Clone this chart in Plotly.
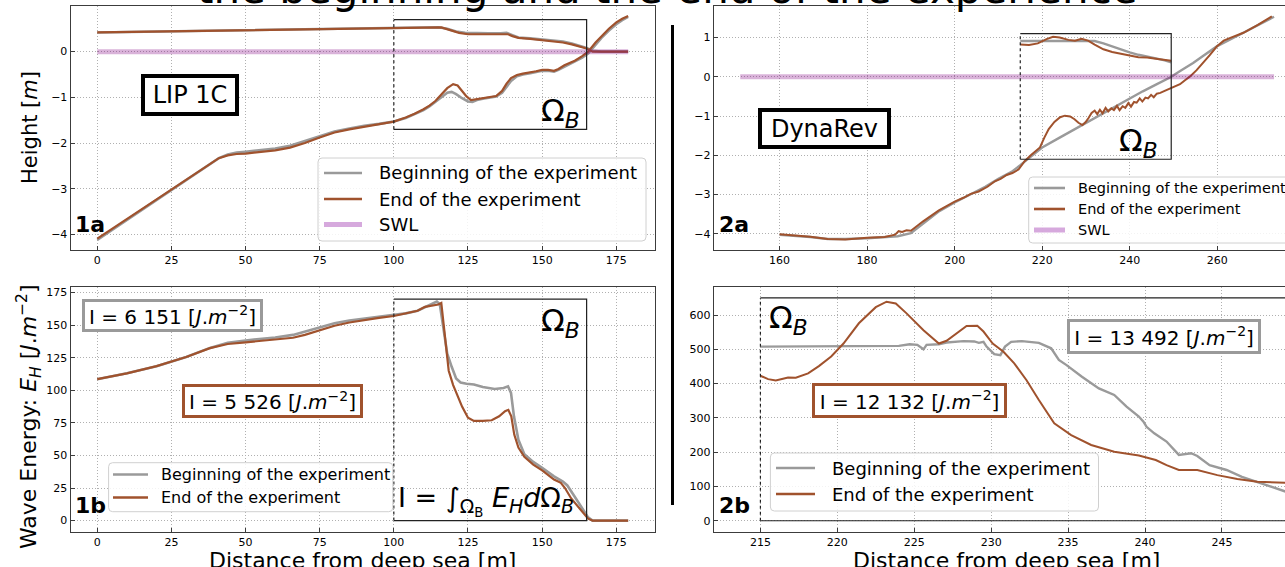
import plotly.graph_objects as go

W, H = 1285, 567
FONT = "DejaVu Sans"
GREY = "#9a9a9a"
BROWN = "#a0522d"
SWL_C = "rgba(128,0,128,0.3)"

# ---------------- data: panel 1a (LIP 1C bathymetry / water level) ----------------
bed1_x_beg = [0, 10, 20, 25, 30, 35, 38, 41, 44, 47, 50, 55, 60, 65, 70, 75, 80, 85, 90, 95,
              100, 104, 107, 110, 112, 114, 116, 118, 119.5, 121, 123, 125, 126.5, 128, 130, 132,
              134.5, 136.5, 138, 139.5, 141.5, 143.5, 146, 148, 150, 152, 154, 155.5, 157.5, 159,
              161, 163.5, 165.5, 168, 170, 172.5, 175, 177, 179]
bed1_y_beg = [-4.12, -3.68, -3.24, -3.02, -2.81, -2.59, -2.46, -2.33, -2.25, -2.21,
              -2.19, -2.16, -2.12, -2.06, -1.96, -1.85, -1.75, -1.68, -1.62, -1.58,
              -1.53, -1.45, -1.37, -1.28, -1.20, -1.10, -0.98, -0.90, -0.88, -0.93,
              -1.02, -1.09, -1.10, -1.06, -1.03, -1.01, -0.98, -0.90, -0.76, -0.64,
              -0.54, -0.50, -0.47, -0.44, -0.42, -0.42, -0.44, -0.40, -0.33, -0.28,
              -0.22, -0.13, -0.04, 0.15, 0.30, 0.46, 0.60, 0.69, 0.76]
bed1_x_end = [0, 10, 20, 25, 30, 35, 38, 41, 44, 47, 50, 55, 60, 65, 70, 75, 80, 85, 90, 95,
              100, 104, 107, 110, 112, 114, 116, 118, 120, 121.5, 123, 124.5, 126, 128, 130, 132,
              134.5, 136.5, 138, 139.5, 141.5, 143.5, 146, 148, 150, 152, 154, 155.5, 157.5, 159,
              161, 163.5, 165.5, 168, 170, 172.5, 175, 177, 179]
bed1_y_end = [-4.09, -3.66, -3.23, -3.0, -2.8, -2.58, -2.45, -2.33, -2.27, -2.24,
              -2.23, -2.20, -2.16, -2.10, -2.00, -1.88, -1.77, -1.70, -1.64, -1.59,
              -1.53, -1.44, -1.36, -1.26, -1.18, -1.08, -0.95, -0.80, -0.71, -0.74,
              -0.86, -0.98, -1.06, -1.04, -1.02, -1.01, -0.97, -0.86, -0.70, -0.58,
              -0.51, -0.48, -0.46, -0.43, -0.40, -0.40, -0.42, -0.38, -0.30, -0.26,
              -0.20, -0.10, 0.0, 0.20, 0.34, 0.50, 0.64, 0.72, 0.78]
top1_x_beg = [0, 25, 50, 75, 100, 110, 115, 118, 121, 124, 128, 132, 136, 138, 140, 142, 146,
              150, 154, 157, 160, 163, 165, 167, 170, 175, 179]
top1_y_beg = [0.42, 0.445, 0.47, 0.49, 0.51, 0.52, 0.535, 0.50, 0.44, 0.41, 0.40, 0.40, 0.40,
              0.41, 0.36, 0.31, 0.29, 0.26, 0.24, 0.22, 0.18, 0.13, 0.08, 0.02, 0.0, 0.0, 0.0]
top1_x_end = [0, 25, 50, 75, 100, 110, 116, 119, 122, 125, 130, 135, 138.5, 140, 142, 146, 150,
              154, 157, 160, 163, 165, 167, 170, 175, 179]
top1_y_end = [0.42, 0.445, 0.47, 0.49, 0.51, 0.52, 0.53, 0.47, 0.41, 0.38, 0.375, 0.375, 0.38,
              0.34, 0.30, 0.28, 0.25, 0.23, 0.20, 0.16, 0.11, 0.07, 0.0, 0.0, 0.0, 0.0]
swl1_x = [0, 179]
swl1_y = [0, 0]

# ---------------- data: panel 1b (LIP 1C wave energy) ----------------
en1_x_beg = [0, 10, 20, 25, 30, 38, 44, 50, 55, 60, 66, 70, 75, 80, 85, 90, 95, 100, 104, 108,
             111, 113, 114.5, 115.5, 117, 118, 119.5, 121, 122.5, 124.5, 127, 130, 134, 137,
             138.5, 139.5, 140.5, 142, 144, 147, 150, 154, 157, 158.5, 160.5, 163, 165.5, 167,
             172, 179]
en1_y_beg = [108.5, 113, 118.5, 122, 125.5, 132.5, 136.5, 138.2, 139.3, 140.5,
             142.5, 145, 148.5, 151.5, 153.5, 155, 156.5, 157.5, 159, 161,
             164, 166.5, 168, 166, 141, 128, 118, 109, 106, 105,
             104.5, 102.5, 101, 101.8, 103, 98, 80, 62, 51, 45,
             40.5, 34, 30, 27, 20, 11, 2.5, 0, 0, 0]
en1_x_end = [0, 10, 20, 25, 30, 38, 44, 50, 55, 60, 66, 70, 75, 80, 85, 90, 95, 100, 104, 108,
             110.5, 113, 115, 116, 117, 118.5, 120, 121.5, 123, 125, 127, 130, 133, 135.5, 137.5,
             138.6, 139.6, 140.6, 142, 144, 147, 150, 154, 156.3, 157.7, 159.8, 162.5, 165.5,
             167, 172, 179]
en1_y_end = [108.5, 113, 118.5, 122, 125.5, 132.3, 135.5, 136.8, 137.8, 138.8,
             140.3, 142.5, 146, 149.5, 152, 154, 155.5, 157, 159, 161,
             164, 165, 165.8, 167, 145, 115, 104, 96, 87.5, 79,
             76.5, 76.5, 77, 80, 84, 85, 80, 66, 56, 49,
             43, 38.5, 31.5, 29, 25, 17, 10, 1.5, 0, 0, 0]

# ---------------- data: panel 2a (DynaRev bathymetry / water level) ----------------
bed2_x_beg = [160, 163, 167, 171, 175, 180, 184, 187, 190, 193, 196.5, 200, 203.5, 207, 210,
              213, 215, 217.5, 220, 224, 228, 232, 235.5, 239, 243, 246, 249.2, 252, 254.5,
              257, 260, 263, 266, 269, 273]
bed2_y_beg = [-4.02, -4.04, -4.08, -4.13, -4.13, -4.11, -4.09, -4.06, -3.98, -3.72,
              -3.42, -3.2, -3.01, -2.8, -2.6, -2.42, -2.25, -2.03, -1.8, -1.55,
              -1.3, -1.05, -0.84, -0.61, -0.37, -0.2, -0.02, 0.18, 0.35, 0.55,
              0.78, 0.95, 1.12, 1.3, 1.53]
bed2_x_end = [160, 163, 167, 171, 175, 180, 184, 186.4, 187.2, 188, 189, 190, 192.8, 196.4,
              200, 202, 203.7, 205.5, 207.5, 209.2, 210.5, 211.9, 213.2, 214.6, 216, 217.4,
              218.5, 219.5, 220.5, 221.5, 222.8, 224.1, 225.2, 226.4, 227.4, 228.3, 229.2,
              229.9, 230.6, 231.3, 232.0, 232.6, 233.2, 233.8, 234.5, 235.1, 235.8, 236.4,
              237.1, 237.7, 238.4, 239.0, 239.7, 240.3, 241.0, 241.6, 242.3, 242.9, 243.6,
              244.2, 244.9, 245.5, 246.2, 247, 248, 249.2, 250.5, 251.5, 252.5, 253.8, 255.3,
              256.8, 258.3, 259.9, 261.5, 263, 266, 269.3, 272.5]
bed2_y_end = [-4.01, -4.03, -4.07, -4.13, -4.14, -4.10, -4.08, -4.02, -3.93, -3.95,
              -3.91, -3.92, -3.68, -3.40, -3.18, -3.08, -2.98, -2.92, -2.80, -2.66,
              -2.60, -2.50, -2.45, -2.36, -2.15, -2.00, -1.90, -1.80, -1.55, -1.33,
              -1.15, -1.03, -0.99, -1.01, -1.08, -1.17, -1.23, -1.16, -1.05, -0.92,
              -0.86, -0.95, -0.84, -0.93, -0.79, -0.88, -0.80, -0.85, -0.74, -0.85,
              -0.75, -0.79, -0.67, -0.76, -0.64, -0.66, -0.55, -0.63, -0.53, -0.55,
              -0.46, -0.52, -0.43, -0.41, -0.36, -0.30, -0.25, -0.19, -0.10, 0.01,
              0.17, 0.35, 0.55, 0.77, 0.92, 0.99, 1.12, 1.32, 1.54]
top2_x_beg = [215, 220, 225, 228, 230, 232, 234, 236, 238, 240, 242, 244, 246, 248, 249.5]
top2_y_beg = [0.91, 0.91, 0.92, 0.92, 0.92, 0.91, 0.85, 0.77, 0.70, 0.62, 0.56, 0.52, 0.47,
              0.42, 0.37]
top2_x_end = [215, 217, 219, 221, 222.5, 224, 226, 227.5, 229, 230.5, 232, 234, 236, 238, 240,
              242, 244, 246, 248, 249.5]
top2_y_end = [0.82, 0.81, 0.85, 0.96, 1.02, 1.0, 0.94, 0.92, 0.97, 0.92, 0.82, 0.70, 0.63,
              0.58, 0.54, 0.50, 0.49, 0.46, 0.43, 0.41]
swl2_x = [151, 273]
swl2_y = [0, 0]

# ---------------- data: panel 2b (DynaRev wave energy) ----------------
en2_x_beg = [215, 223.2, 224, 224.7, 225.2, 225.6, 225.8, 226.6, 227.1, 228.2, 228.9, 229.2,
             229.5, 229.7, 230.2, 230.6, 230.9, 231.3, 232, 233.1, 233.9, 234.4, 234.9, 235.9,
             237, 238, 238.8, 239.6, 239.9, 240.1, 240.6, 241.4, 242.2, 243, 243.4, 244.2,
             245.3, 246.3, 247.3, 248.4, 249.1, 250]
en2_y_beg = [508, 508, 510, 515, 513, 500, 513, 515, 520, 524,
             523, 519, 522, 508, 486, 483, 508, 522, 524, 519,
             503, 469, 454, 420, 386, 367, 333, 304, 289, 274,
             255, 231, 192, 197, 189, 162, 148, 128, 113, 97,
             87, 72]
en2_x_end = [215, 215.5, 216, 216.8, 217.3, 218.1, 218.8, 219.6, 220.4, 221.4, 222.5, 223.2,
             223.8, 224.5, 225.6, 226.6, 227.1, 227.8, 228.4, 229.1, 229.5, 230.1, 230.8, 231.5,
             232.3, 233.1, 234.1, 235.2, 236.5, 238, 239.6, 240.7, 241.4, 242.2, 243.4, 244.7,
             246, 247.3, 249.1, 250]
en2_y_end = [423, 413, 409, 418, 417, 430, 451, 479, 517, 576,
             623, 639, 634, 605, 556, 517, 525, 547, 568, 569,
             552, 517, 493, 459, 410, 352, 284, 250, 221, 201,
             190, 177, 162, 148, 148, 133, 122, 114, 110, 109]

# Omega_B boxes: [x0, x1, y0, y1]
box_1a = [100, 165, -1.7, 0.7]
box_1b = [100, 165, 0, 170]
box_2a = [215, 249.5, -2.1, 1.1]
box_2b = [215, 285, 0, 650]

ticks_1x = [0, 25, 50, 75, 100, 125, 150, 175]
ticks_1ay = [-4, -3, -2, -1, 0]
ticks_1by = [0, 25, 50, 75, 100, 125, 150, 175]
ticks_2ax = [160, 180, 200, 220, 240, 260]
ticks_2ay = [-4, -3, -2, -1, 0, 1]
ticks_2bx = [215, 220, 225, 230, 235, 240, 245]
ticks_2by = [0, 100, 200, 300, 400, 500, 600]

LBL_BEG = "Beginning of the experiment"
LBL_END = "End of the experiment"
LBL_SWL = "SWL"


def fx(p):
    return p / W


def fy(p):
    return 1 - p / H


fig = go.Figure()


def line(x, y, color, width, xa, ya):
    fig.add_trace(go.Scatter(x=x, y=y, mode="lines", line=dict(color=color, width=width),
                             xaxis=xa, yaxis=ya, showlegend=False, hoverinfo="skip"))


# 1a
line(bed1_x_beg, bed1_y_beg, GREY, 2.6, "x", "y")
line(top1_x_beg, top1_y_beg, GREY, 2.6, "x", "y")
line(bed1_x_end, bed1_y_end, BROWN, 2.2, "x", "y")
line(top1_x_end, top1_y_end, BROWN, 2.2, "x", "y")
line(swl1_x, swl1_y, SWL_C, 5, "x", "y")
# 1b
line(en1_x_beg, en1_y_beg, GREY, 2.6, "x2", "y2")
line(en1_x_end, en1_y_end, BROWN, 2.2, "x2", "y2")
# 2a
line(bed2_x_beg, bed2_y_beg, GREY, 2.4, "x3", "y3")
line(top2_x_beg, top2_y_beg, GREY, 2.4, "x3", "y3")
line(bed2_x_end, bed2_y_end, BROWN, 2.0, "x3", "y3")
line(top2_x_end, top2_y_end, BROWN, 2.0, "x3", "y3")
line(swl2_x, swl2_y, SWL_C, 5, "x3", "y3")
# 2b
line(en2_x_beg, en2_y_beg, GREY, 2.4, "x4", "y4")
line(en2_x_end, en2_y_end, BROWN, 2.0, "x4", "y4")

AX = "#3c3c3c"


def axis(domain, rng, tickvals, anchor, mirror=True):
    return dict(domain=domain, range=rng, tickvals=tickvals, anchor=anchor,
                showline=True, linecolor=AX, linewidth=1.3, mirror=mirror,
                ticks="inside", ticklen=4, tickcolor=AX, tickwidth=1,
                showgrid=True, gridcolor="#b0b0b0", griddash="1px,2px", gridwidth=1,
                zeroline=False, tickfont=dict(family=FONT, size=11, color="black"))


xl = [fx(70.7), fx(654.7)]
xr = [fx(713.8), 1.0]
yt = [fy(250), fy(5.7)]
yb = [fy(531.7), fy(287.3)]

fig.update_layout(
    width=W, height=H, margin=dict(l=0, r=0, t=0, b=0),
    paper_bgcolor="white", plot_bgcolor="white", showlegend=False,
    xaxis=axis(xl, [-8.95, 187.95], ticks_1x, "y"),
    yaxis=axis(yt, [-4.34, 1.005], ticks_1ay, "x"),
    xaxis2=axis(xl, [-8.95, 187.95], ticks_1x, "y2"),
    yaxis2=axis(yb, [-8.5, 179], ticks_1by, "x2"),
    xaxis3=axis(xr, [144.96, 275.5], ticks_2ax, "y3"),
    yaxis3=axis(yt, [-4.41, 1.81], ticks_2ay, "x3", mirror=False),
    xaxis4=axis(xr, [211.97, 249.1], ticks_2bx, "y4"),
    yaxis4=axis(yb, [-32, 681], ticks_2by, "x4", mirror=False),
)


# Omega_B boxes
def omega_box(b, xa, ya):
    x0, x1, y0, y1 = b
    fig.add_shape(type="path", xref=xa, yref=ya,
                  path=f"M {x0},{y1} L {x1},{y1} L {x1},{y0} L {x0},{y0}",
                  line=dict(color="#222222", width=1.2))
    fig.add_shape(type="line", xref=xa, yref=ya, x0=x0, x1=x0, y0=y0, y1=y1,
                  line=dict(color="#222222", width=1.2, dash="dot"))


omega_box(box_1a, "x", "y")
omega_box(box_1b, "x2", "y2")
omega_box(box_2a, "x3", "y3")
omega_box(box_2b, "x4", "y4")


# legends drawn as boxes
def rrect(x0, y0, x1, y1, r=4):
    return (f"M {fx(x0 + r)},{fy(y0)} L {fx(x1 - r)},{fy(y0)} Q {fx(x1)},{fy(y0)} {fx(x1)},{fy(y0 + r)} "
            f"L {fx(x1)},{fy(y1 - r)} Q {fx(x1)},{fy(y1)} {fx(x1 - r)},{fy(y1)} "
            f"L {fx(x0 + r)},{fy(y1)} Q {fx(x0)},{fy(y1)} {fx(x0)},{fy(y1 - r)} "
            f"L {fx(x0)},{fy(y0 + r)} Q {fx(x0)},{fy(y0)} {fx(x0 + r)},{fy(y0)} Z")


def legend(box, rows, sw, tx, size, entries):
    x0, y0, x1, y1 = box
    fig.add_shape(type="path", xref="paper", yref="paper", path=rrect(x0, y0, x1, y1),
                  line=dict(color="#d0d0d0", width=1), fillcolor="rgba(255,255,255,0.85)")
    for (lab, col, wd), ry in zip(entries, rows):
        fig.add_shape(type="line", xref="paper", yref="paper", x0=fx(sw[0]), x1=fx(sw[1]),
                      y0=fy(ry), y1=fy(ry), line=dict(color=col, width=wd))
        fig.add_annotation(text=lab, x=fx(tx), y=fy(ry), xref="paper", yref="paper",
                           showarrow=False, xanchor="left", yanchor="middle",
                           font=dict(family=FONT, size=size, color="black"))


e3 = [(LBL_BEG, GREY, 2.6), (LBL_END, BROWN, 2.6), (LBL_SWL, "rgba(200,140,210,0.75)", 5)]
e2 = [(LBL_BEG, GREY, 2.6), (LBL_END, BROWN, 2.6)]
legend((318, 158, 646, 241), (173, 199, 224.5), (324, 362), 377, 18, e3)
legend((1028.7, 177, 1300, 243), (188, 209, 230), (1034, 1065), 1076, 14.5, e3)
legend((108.6, 462.7, 392.8, 511.7), (474.5, 497.5), (113, 148), 159, 16, e2)
legend((770.4, 453, 1098.5, 511), (468, 494), (776, 815), 829.5, 18, e2)


def txt(text, x, y, size, xanchor="center", yanchor="middle", **kw):
    fig.add_annotation(text=text, x=fx(x), y=fy(y), xref="paper", yref="paper",
                       showarrow=False, xanchor=xanchor, yanchor=yanchor,
                       font=dict(family=FONT, size=size, color=kw.pop("color", "black")), **kw)


# title (partly cut at top of the image)
txt("the beginning and the end of the experience", 667, -12, 42)

# axis titles
txt("Height [<i>m</i>]", 30, 128, 21, textangle=-90)
txt("Wave Energy: <i>E<sub>H</sub></i> [<i>J</i>.<i>m</i><sup>−2</sup>]", 29, 417, 22, textangle=-90)
txt("Distance from deep sea [m]", 362.7, 560, 22)
txt("Distance from deep sea [m]", 1006, 560, 22)

# panel labels
txt("<b>1a</b>", 90, 225, 22)
txt("<b>2a</b>", 734, 225, 22)
txt("<b>1b</b>", 90, 505, 22)
txt("<b>2b</b>", 734, 505, 22)

# experiment names
txt("LIP 1C", 190, 95, 24, bordercolor="black", borderwidth=4, borderpad=0,
    bgcolor="white", width=90, height=34)
txt("DynaRev", 824, 128.5, 24, bordercolor="black", borderwidth=4, borderpad=0,
    bgcolor="white", width=125, height=33)

# Omega_B labels
OM = "Ω<sub><i>B</i></sub>"
txt(OM, 539, 113, 31, xanchor="left")
txt(OM, 539, 322, 31, xanchor="left")
txt(OM, 1117, 142, 31, xanchor="left")
txt(OM, 767, 319, 31, xanchor="left")

# integrals
txt("I = 6 151 [<i>J</i>.<i>m</i><sup>−2</sup>]", 172.5, 315.5, 20, bordercolor=GREY,
    borderwidth=3, borderpad=0, bgcolor="white", width=175, height=27)
txt("I = 5 526 [<i>J</i>.<i>m</i><sup>−2</sup>]", 272.5, 401, 20, bordercolor=BROWN,
    borderwidth=3, borderpad=0, bgcolor="white", width=175, height=28)
txt("I = 13 492 [<i>J</i>.<i>m</i><sup>−2</sup>]", 1164, 336.5, 20, bordercolor=GREY,
    borderwidth=3, borderpad=0, bgcolor="white", width=188, height=29)
txt("I = 12 132 [<i>J</i>.<i>m</i><sup>−2</sup>]", 909, 400.5, 20, bordercolor=BROWN,
    borderwidth=3, borderpad=0, bgcolor="white", width=189, height=29)
txt("I = ∫<sub>Ω<sub>B</sub></sub> <i>E<sub>H</sub>d</i>Ω<sub><i>B</i></sub>", 396, 501, 27,
    xanchor="left")

# separator between the two experiments
fig.add_shape(type="line", xref="paper", yref="paper", x0=fx(672.5), x1=fx(672.5),
              y0=fy(25), y1=fy(505), line=dict(color="black", width=3))

fig.write_html("out.html", config={"displayModeBar": False},
               post_script="document.body.style.margin='0px';")
